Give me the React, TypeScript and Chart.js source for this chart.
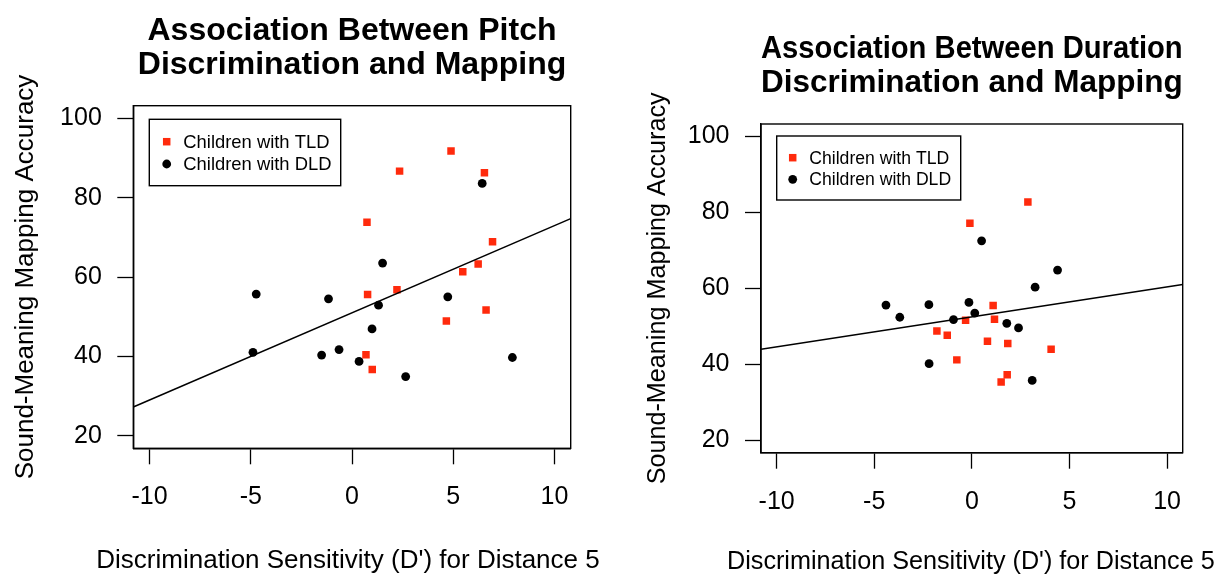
import React, { useEffect, useRef } from "react";
import { Chart, registerables } from "chart.js";

Chart.register(...registerables);

const FONT = '"Liberation Sans", Arial, Helvetica, sans-serif';
const RED = "#ff2a0c";
const BLACK = "#000000";

// ---- axes / labels ----
const xTickValues = [-10, -5, 0, 5, 10];
const yTickValues = [20, 40, 60, 80, 100];
const xRange = [-10.8, 10.8];
const yRange = [16.8, 103.2];
const seriesLabels = ["Children with TLD", "Children with DLD"];
const xAxisTitle = "Discrimination Sensitivity (D') for Distance 5";
const yAxisTitle = "Sound-Meaning Mapping Accuracy";
const pitchTitle = ["Association Between Pitch", "Discrimination and Mapping"];
const durationTitle = ["Association Between Duration", "Discrimination and Mapping"];

// ---- pitch panel data ----
const pitchTldX = [4.89, 2.35, 6.54, 0.74, 6.94, 6.23, 5.47, 2.22, 0.77, 6.62, 4.66, 0.69, 1.0];
const pitchTldY = [91.8, 86.7, 86.3, 73.8, 68.9, 63.3, 61.3, 56.8, 55.6, 51.7, 48.9, 40.4, 36.7];
const pitchDldX = [6.43, 1.51, -4.73, -1.16, 4.73, 1.31, 0.99, -4.89, -1.5, -0.64, 0.35, 2.65, 7.92];
const pitchDldY = [83.6, 63.5, 55.7, 54.5, 55.0, 52.9, 46.9, 41.0, 40.3, 41.7, 38.7, 34.9, 39.7];
const pitchFitIntercept = 50.96;
const pitchFitSlope = 2.2;

// ---- duration panel data ----
const durationTldX = [2.87, -0.1, 1.09, 1.16, -0.32, -1.79, -1.26, 0.8, 1.84, 4.06, -0.77, 1.81, 1.5];
const durationTldY = [82.7, 77.1, 55.5, 51.9, 51.6, 48.8, 47.7, 46.1, 45.5, 44.0, 41.2, 37.3, 35.4];
const durationDldX = [0.5, 4.39, 3.24, -4.4, -2.2, -0.15, -3.69, 0.15, -0.94, 1.79, 2.39, -2.19, 3.09];
const durationDldY = [72.5, 64.8, 60.3, 55.6, 55.7, 56.3, 52.4, 53.5, 51.8, 50.8, 49.6, 40.2, 35.8];
const durationFitIntercept = 52.5;
const durationFitSlope = 0.789;

const zip = (xs: number[], ys: number[]) => xs.map((x, i) => ({ x, y: ys[i] }));

const framePlugin = {
  id: "frame",
  afterDatasetsDraw(chart: any) {
    const { ctx, chartArea: a } = chart;
    ctx.save();
    ctx.strokeStyle = BLACK;
    ctx.lineWidth = 1.4;
    ctx.strokeRect(a.left, a.top, a.right - a.left, a.bottom - a.top);
    ctx.restore();
  },
};

// x-axis title drawn centred under the plot area without width compression
const xTitlePlugin = {
  id: "xTitle",
  afterDraw(chart: any, _args: any, opts: any) {
    const { ctx, chartArea: a } = chart;
    ctx.save();
    ctx.fillStyle = BLACK;
    ctx.font = `${opts.size}px ${FONT}`;
    ctx.textAlign = "center";
    ctx.textBaseline = "middle";
    ctx.fillText(opts.text, (a.left + a.right) / 2 + opts.dx, opts.y);
    ctx.restore();
  },
};

const boxLegendPlugin = {
  id: "boxLegend",
  afterDraw(chart: any, _args: any, opts: any) {
    const { ctx, chartArea: a } = chart;
    const x0 = a.left + opts.x;
    const y0 = a.top + opts.y;
    ctx.save();
    ctx.fillStyle = "#ffffff";
    ctx.fillRect(x0, y0, opts.w, opts.h);
    ctx.strokeStyle = BLACK;
    ctx.lineWidth = 1.4;
    ctx.strokeRect(x0, y0, opts.w, opts.h);
    const rows = [opts.row1, opts.row2];
    const ds = chart.data.datasets.filter((d: any) => d.type !== "line");
    ds.forEach((d: any, i: number) => {
      const cy = y0 + rows[i];
      const cx = x0 + opts.symX;
      ctx.fillStyle = d.backgroundColor;
      if (d.pointStyle === "rect") {
        const s = d.pointRadius * Math.SQRT1_2;
        ctx.fillRect(cx - s, cy - s, 2 * s, 2 * s);
      } else {
        ctx.beginPath();
        ctx.arc(cx, cy, d.pointRadius, 0, Math.PI * 2);
        ctx.fill();
      }
      ctx.fillStyle = BLACK;
      ctx.font = `${opts.font}px ${FONT}`;
      ctx.textBaseline = "middle";
      ctx.textAlign = "left";
      ctx.fillText(d.label, x0 + opts.textX, cy + 1);
    });
    ctx.restore();
  },
};

type Spec = {
  left: number;
  width: number;
  title: string[];
  tldX: number[];
  tldY: number[];
  dldX: number[];
  dldY: number[];
  intercept: number;
  slope: number;
  yAxisWidth: number;
  padRight: number;
  xAxisHeight: number;
  titlePadTop: number;
  titlePadBottom: number;
  yTitlePad: number;
  xTitleY: number;
  xTitleDx: number;
  axisTitleSize: number;
  legend: any;
};

const pitchSpec: Spec = {
  left: 0,
  width: 612,
  title: pitchTitle,
  tldX: pitchTldX,
  tldY: pitchTldY,
  dldX: pitchDldX,
  dldY: pitchDldY,
  intercept: pitchFitIntercept,
  slope: pitchFitSlope,
  yAxisWidth: 133.3,
  padRight: 41.3,
  xAxisHeight: 128.7,
  titlePadTop: 14.5,
  titlePadBottom: 23.2,
  yTitlePad: 10.4,
  xTitleY: 561,
  xTitleDx: -4,
  axisTitleSize: 26,
  legend: { x: 16, y: 13.6, w: 191.4, h: 66.4, symX: 17.4, textX: 34, row1: 22.4, row2: 44.7, font: 18.4 },
};

const durationSpec: Spec = {
  left: 612,
  width: 613,
  title: durationTitle,
  tldX: durationTldX,
  tldY: durationTldY,
  dldX: durationDldX,
  dldY: durationDldY,
  intercept: durationFitIntercept,
  slope: durationFitSlope,
  yAxisWidth: 149,
  padRight: 42.3,
  xAxisHeight: 124.3,
  titlePadTop: 32,
  titlePadBottom: 24,
  yTitlePad: 30.9,
  xTitleY: 562,
  xTitleDx: -1,
  axisTitleSize: 25.2,
  legend: { x: 15.7, y: 12, w: 184, h: 64, symX: 16, textX: 32.6, row1: 21.7, row2: 43.3, font: 17.6 },
};

function buildConfig(s: Spec): any {
  const fitLine = xRange.map((x) => ({ x, y: s.intercept + s.slope * x }));
  return {
    type: "scatter",
    data: {
      datasets: [
        {
          type: "line",
          label: "fit",
          data: fitLine,
          borderColor: BLACK,
          borderWidth: 1.5,
          pointRadius: 0,
          fill: false,
        },
        {
          label: seriesLabels[0],
          data: zip(s.tldX, s.tldY),
          pointStyle: "rect",
          pointRadius: 5.3,
          backgroundColor: RED,
          borderColor: RED,
          borderWidth: 0,
        },
        {
          label: seriesLabels[1],
          data: zip(s.dldX, s.dldY),
          pointStyle: "circle",
          pointRadius: 4.4,
          backgroundColor: BLACK,
          borderColor: BLACK,
          borderWidth: 0,
        },
      ],
    },
    options: {
      animation: false,
      responsive: false,
      devicePixelRatio: 1,
      events: [],
      layout: { padding: { left: 0, right: s.padRight, top: 0, bottom: 0 } },
      scales: {
        x: {
          type: "linear",
          min: xRange[0],
          max: xRange[1],
          afterBuildTicks: (sc: any) => {
            sc.ticks = xTickValues.map((v) => ({ value: v }));
          },
          afterFit: (sc: any) => {
            sc.height = s.xAxisHeight;
          },
          grid: { display: true, drawOnChartArea: false, drawTicks: true, tickLength: 16, tickColor: BLACK, tickWidth: 1.3 },
          border: { display: true, color: BLACK, width: 1.4 },
          ticks: { color: BLACK, font: { family: FONT, size: 25 }, padding: 18, maxRotation: 0, autoSkip: false },
          title: { display: false },
        },
        y: {
          type: "linear",
          min: yRange[0],
          max: yRange[1],
          afterBuildTicks: (sc: any) => {
            sc.ticks = yTickValues.map((v) => ({ value: v }));
          },
          afterFit: (sc: any) => {
            sc.width = s.yAxisWidth;
          },
          grid: { display: true, drawOnChartArea: false, drawTicks: true, tickLength: 16, tickColor: BLACK, tickWidth: 1.3 },
          border: { display: true, color: BLACK, width: 1.4 },
          ticks: { color: BLACK, font: { family: FONT, size: 25 }, padding: 15.5, autoSkip: false },
          title: {
            display: true,
            text: yAxisTitle,
            color: BLACK,
            font: { family: FONT, size: s.axisTitleSize },
            padding: { top: s.yTitlePad, bottom: 0 },
          },
        },
      },
      plugins: {
        legend: { display: false },
        tooltip: { enabled: false },
        title: {
          display: true,
          text: s.title,
          fullSize: false,
          color: BLACK,
          font: { family: FONT, size: 32, weight: "bold", lineHeight: "34px" },
          padding: { top: s.titlePadTop, bottom: s.titlePadBottom },
        },
        xTitle: { text: xAxisTitle, size: s.axisTitleSize, y: s.xTitleY, dx: s.xTitleDx },
        boxLegend: s.legend,
      },
    },
    plugins: [framePlugin, xTitlePlugin, boxLegendPlugin],
  };
}

function Panel({ spec }: { spec: Spec }) {
  const ref = useRef<HTMLCanvasElement>(null);
  useEffect(() => {
    const chart = new Chart(ref.current as HTMLCanvasElement, buildConfig(spec));
    return () => chart.destroy();
  }, [spec]);
  return (
    <canvas
      ref={ref}
      width={spec.width}
      height={577}
      style={{ position: "absolute", left: spec.left, top: 0, width: spec.width, height: 577 }}
    />
  );
}

export default function App() {
  return (
    <div style={{ position: "absolute", left: 0, top: 0, width: 1225, height: 577, background: "#ffffff" }}>
      <Panel spec={pitchSpec} />
      <Panel spec={durationSpec} />
    </div>
  );
}
